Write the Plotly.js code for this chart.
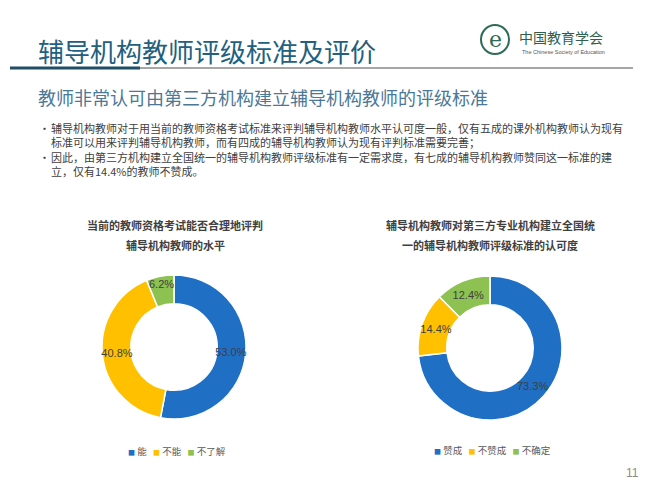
<!DOCTYPE html>
<html>
<head>
<meta charset="utf-8">
<script src="https://cdn.plot.ly/plotly-3.0.1.min.js"></script>
<style>
html,body{margin:0;padding:0;background:#fff;}
#chart{width:657px;height:491px;}
</style>
</head>
<body>
<div id="chart"></div>
<script>
// ---- data ----
const leftTitle = ['当前的教师资格考试能否合理地评判', '辅导机构教师的水平'];
const leftLabels = ['能', '不能', '不了解'];
const leftValues = [53.0, 40.8, 6.2];

const rightTitle = ['辅导机构教师对第三方专业机构建立全国统', '一的辅导机构教师评级标准的认可度'];
const rightLabels = ['赞成', '不赞成', '不确定'];
const rightValues = [73.3, 14.4, 12.4];

const pageTitle = '辅导机构教师评级标准及评价';
const subTitle = '教师非常认可由第三方机构建立辅导机构教师的评级标准';
const bulletLines = [
  '辅导机构教师对于用当前的教师资格考试标准来评判辅导机构教师水平认可度一般，仅有五成的课外机构教师认为现有',
  '标准可以用来评判辅导机构教师，而有四成的辅导机构教师认为现有评判标准需要完善；',
  '因此，由第三方机构建立全国统一的辅导机构教师评级标准有一定需求度，有七成的辅导机构教师赞同这一标准的建',
  '立，仅有14.4%的教师不赞成。'
];
const bulletStarts = [true, false, true, false];
const pageNumber = '11';
const logoName = '中国教育学会';
const logoEng = 'The Chinese Society of Education';

// ---- styles ----
const sliceColors = ['#1F6FC5', '#FFC000', '#8DC152'];
const CJK = '"Noto Sans CJK SC", "Noto Sans", sans-serif';
const W = 657, H = 491;
const px = x => x / W;
const py = y => 1 - y / H;

function dom(cx, cy, r) {
  return {x: [px(cx - r), px(cx + r)], y: [py(cy + r), py(cy - r)]};
}

// visible donut ring
function ring(labels, values, cx, cy, r) {
  return {
    type: 'pie', labels: labels, values: values,
    sort: false, direction: 'clockwise', rotation: 0, hole: 0.6,
    domain: dom(cx, cy, r),
    marker: {colors: sliceColors, line: {color: '#ffffff', width: 1.5}},
    textinfo: 'none', hoverinfo: 'label+value', showlegend: false
  };
}
// transparent label layer (same slices) so value labels sit mid-ring at full size
function labelLayer(labels, values, cx, cy, r) {
  return {
    type: 'pie', labels: labels, values: values,
    sort: false, direction: 'clockwise', rotation: 0, hole: 0.5,
    domain: dom(cx, cy, r * 1.06),
    marker: {colors: ['rgba(0,0,0,0)', 'rgba(0,0,0,0)', 'rgba(0,0,0,0)'], line: {width: 0}},
    texttemplate: '%{value:.1f}%',
    textposition: 'inside',
    insidetextorientation: 'horizontal',
    textfont: {family: 'Liberation Sans, Arial, sans-serif', size: 11, color: '#404040'},
    hoverinfo: 'skip', showlegend: false
  };
}

const traces = [
  ring(leftLabels, leftValues, 174, 347, 72),
  ring(rightLabels, rightValues, 490, 348, 72),
  labelLayer(leftLabels, leftValues, 174, 347, 72),
  labelLayer(rightLabels, rightValues, 490, 348, 72)
];

const ann = [];
function addText(text, x, y, opts) {
  ann.push(Object.assign({
    text: text, x: px(x), y: py(y), xref: 'paper', yref: 'paper',
    showarrow: false, xanchor: 'left', yanchor: 'middle',
    font: {family: CJK, size: 11, color: '#404040'}
  }, opts || {}));
}

addText(pageTitle, 36, 50, {font: {family: CJK, size: 26, color: '#22607F'}});
addText(subTitle, 36, 97, {font: {family: CJK, size: 18, color: '#4A7896'}});

// bullets: one multi-line block for text, one for the bullet dots
addText(bulletLines.join('<br>'), 49, 150, {align: 'left', font: {family: CJK, size: 11, color: '#404040'}});
addText(bulletStarts.map(b => b ? '•' : ' ').join('<br>'), 37, 150,
  {align: 'left', font: {family: CJK, size: 11, color: '#404040'}});

leftTitle.forEach((t, i) => addText('<b>' + t + '</b>', 175, 225 + i * 20,
  {xanchor: 'center', font: {family: CJK, size: 11, color: '#404040'}}));
rightTitle.forEach((t, i) => addText('<b>' + t + '</b>', 490, 225 + i * 20,
  {xanchor: 'center', font: {family: CJK, size: 11, color: '#404040'}}));

// legends built from the category arrays
function legendText(labels) {
  return labels.map((l, i) =>
    '<span style="color:' + sliceColors[i] + ';font-size:7px">■</span>\u00a0' + l).join('\u00a0\u00a0\u00a0');
}
addText(legendText(leftLabels), 177, 451, {xanchor: 'center', font: {family: CJK, size: 9.5, color: '#595959'}});
addText(legendText(rightLabels), 492, 450, {xanchor: 'center', font: {family: CJK, size: 9.5, color: '#595959'}});

addText(pageNumber, 632, 473, {xanchor: 'center', font: {family: 'Liberation Sans, Arial', size: 12, color: '#8C8C8C'}});

// logo
addText('e', 495, 39, {xanchor: 'center', font: {family: 'DejaVu Serif, serif', size: 22, color: '#2E6B57'}});
addText(logoName, 517, 37, {font: {family: CJK, size: 14, color: '#2E5E4C'}});
addText(logoEng, 520, 52, {font: {family: 'Liberation Sans, Arial', size: 5.5, color: '#555'}});

const shapes = [
  {type: 'line', xref: 'paper', yref: 'paper', x0: px(10), x1: px(633), y0: py(68), y1: py(68),
   line: {color: '#A6A6A6', width: 2}},
  {type: 'line', xref: 'paper', yref: 'paper', x0: px(10), x1: px(140), y0: py(68), y1: py(68),
   line: {color: '#1F4E66', width: 3}},
  {type: 'circle', xref: 'paper', yref: 'paper', x0: px(481), x1: px(509), y0: py(54), y1: py(25),
   line: {color: '#2E6B57', width: 2}}
];

const layout = {
  width: W, height: H,
  margin: {l: 0, r: 0, t: 0, b: 0},
  paper_bgcolor: '#ffffff',
  showlegend: false,
  uniformtext: {mode: 'show', minsize: 11},
  annotations: ann,
  shapes: shapes
};

Plotly.newPlot('chart', traces, layout, {displayModeBar: false, staticPlot: true});
</script>
</body>
</html>
